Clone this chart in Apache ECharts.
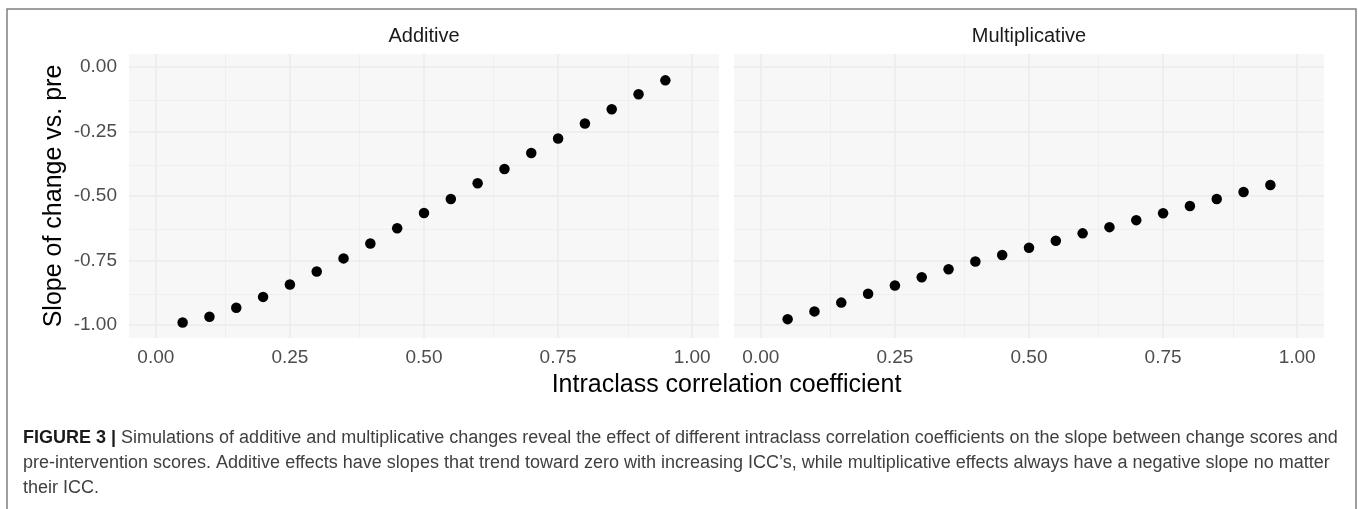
<!DOCTYPE html>
<html>
<head>
<meta charset="utf-8">
<script src="https://cdn.jsdelivr.net/npm/echarts@6/dist/echarts.min.js"></script>
<style>
html,body{margin:0;padding:0;background:#fff;}
#chart{width:1358px;height:509px;}
</style>
</head>
<body>
<div id="chart"></div>
<script>
var panels = ['Additive', 'Multiplicative'];
var icc = [0.05,0.10,0.15,0.20,0.25,0.30,0.35,0.40,0.45,0.50,0.55,0.60,0.65,0.70,0.75,0.80,0.85,0.90,0.95];
var additiveSlope = [-0.990,-0.968,-0.933,-0.891,-0.843,-0.793,-0.742,-0.684,-0.625,-0.566,-0.512,-0.451,-0.396,-0.334,-0.278,-0.220,-0.165,-0.107,-0.053];
var multiplicativeSlope = [-0.977,-0.947,-0.913,-0.879,-0.847,-0.815,-0.784,-0.754,-0.729,-0.701,-0.674,-0.645,-0.621,-0.594,-0.567,-0.539,-0.512,-0.485,-0.458];
var xTicks = [0, 0.25, 0.5, 0.75, 1];
var xMinor = [0.125, 0.375, 0.625, 0.875];
var yTicks = [-1, -0.75, -0.5, -0.25, 0];
var yMinor = [-0.875, -0.625, -0.375, -0.125];
var xTitle = 'Intraclass correlation coefficient';
var yTitle = 'Slope of change vs. pre';
var captionLines = [
  '{b|FIGURE 3 |} Simulations of additive and multiplicative changes reveal the effect of different intraclass correlation coefficients on the slope between change scores and',
  'pre-intervention scores. Additive effects have slopes that trend toward zero with increasing ICC\u2019s, while multiplicative effects always have a negative slope no matter',
  'their ICC.'
];

var FONT = '"Liberation Sans", Arial, Helvetica, sans-serif';
var chart = echarts.init(document.getElementById('chart'), null, {renderer: 'canvas'});

function pairs(xs, ys) { return xs.map(function (x, i) { return [x, ys[i]]; }); }
var seriesValues = [additiveSlope, multiplicativeSlope];

var grids = [
  {left: 129, width: 590, top: 54, height: 284},
  {left: 734, width: 590, top: 54, height: 284}
];

var xAxes = [], yAxes = [], series = [];
grids.forEach(function (g, i) {
  xAxes.push({
    type: 'value', gridIndex: i, min: -0.05, max: 1.05,
    axisLine: {show: false}, axisTick: {show: false}, splitLine: {show: false},
    axisLabel: {
      customValues: xTicks, margin: 10, fontSize: 19, color: '#4d4d4d', fontFamily: FONT,
      formatter: function (v) { return v.toFixed(2); }
    }
  });
  yAxes.push({
    type: 'value', gridIndex: i, min: -1.05, max: 0.049,
    axisLine: {show: false}, axisTick: {show: false}, splitLine: {show: false},
    axisLabel: {
      show: i === 0, customValues: yTicks, margin: 12, fontSize: 19, color: '#4d4d4d', fontFamily: FONT,
      formatter: function (v) { return v.toFixed(2); }
    }
  });
  var lines = [];
  xTicks.forEach(function (v) { lines.push({xAxis: v, lineStyle: {width: 1.6, color: '#ebebeb', type: 'solid'}}); });
  xMinor.forEach(function (v) { lines.push({xAxis: v, lineStyle: {width: 0.8, color: '#ececec', type: 'solid'}}); });
  yTicks.forEach(function (v) { lines.push({yAxis: v, lineStyle: {width: 1.6, color: '#ebebeb', type: 'solid'}}); });
  yMinor.forEach(function (v) { lines.push({yAxis: v, lineStyle: {width: 0.8, color: '#ececec', type: 'solid'}}); });
  series.push({
    type: 'scatter', xAxisIndex: i, yAxisIndex: i, data: [], z: 1, silent: true,
    markLine: {silent: true, symbol: 'none', label: {show: false}, animation: false, z: 1, data: lines}
  });
  series.push({
    name: panels[i], type: 'scatter', xAxisIndex: i, yAxisIndex: i, z: 10,
    symbol: 'circle', symbolSize: 10.5, itemStyle: {color: '#000', opacity: 1},
    data: pairs(icc, seriesValues[i]), animation: false
  });
});

var graphics = [
  {type: 'rect', shape: {x: 7, y: 9, width: 1349, height: 560}, style: {fill: 'none', stroke: '#7f7f7f', lineWidth: 1.5}, silent: true},
  {type: 'text', x: 129 + 295, y: 36, style: {text: panels[0], font: '20px ' + FONT, fill: '#1a1a1a', align: 'center', verticalAlign: 'middle'}},
  {type: 'text', x: 734 + 295, y: 36, style: {text: panels[1], font: '20px ' + FONT, fill: '#1a1a1a', align: 'center', verticalAlign: 'middle'}},
  {type: 'text', x: 726.5, y: 385, style: {text: xTitle, font: '25px ' + FONT, fill: '#000', align: 'center', verticalAlign: 'middle'}},
  {type: 'text', x: 54, y: 196, rotation: Math.PI / 2, style: {text: yTitle, font: '25px ' + FONT, fill: '#000', align: 'center', verticalAlign: 'middle'}}
];
captionLines.forEach(function (t, k) {
  graphics.push({
    type: 'text', x: 23, y: 438 + k * 25,
    style: {
      text: t, font: '18px ' + FONT, fill: '#404040', align: 'left', verticalAlign: 'middle',
      rich: {b: {fontWeight: 'bold', fill: '#1a1a1a', fontSize: 18, fontFamily: FONT}}
    }
  });
});

chart.setOption({
  animation: false,
  backgroundColor: '#fff',
  grid: grids.map(function (g) { return Object.assign({show: true, backgroundColor: '#f7f7f7', borderWidth: 0}, g); }),
  xAxis: xAxes,
  yAxis: yAxes,
  series: series,
  graphic: graphics
});
</script>
</body>
</html>
